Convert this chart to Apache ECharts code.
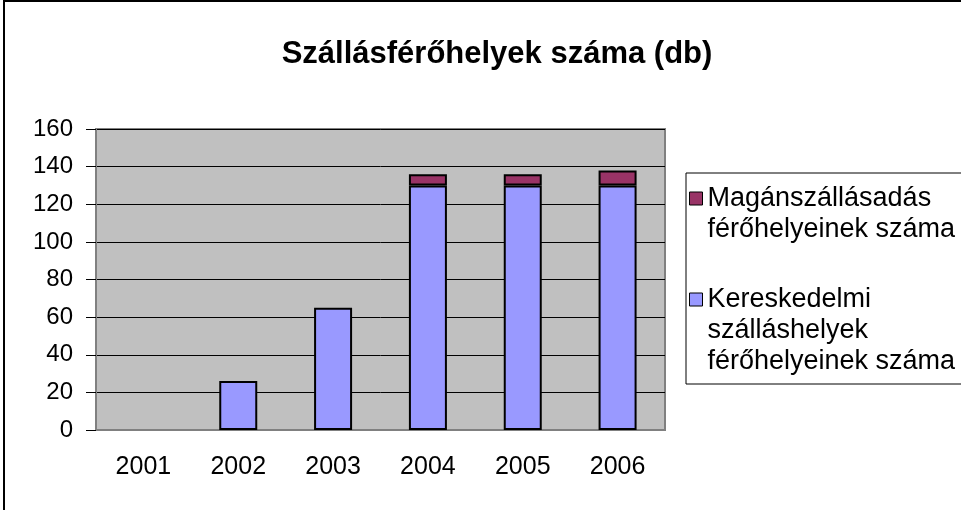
<!DOCTYPE html>
<html>
<head>
<meta charset="utf-8">
<script src="https://cdn.jsdelivr.net/npm/echarts@6/dist/echarts.min.js"></script>
<style>
  html, body { margin: 0; padding: 0; background: #fff; }
  #chart { width: 961px; height: 510px; }
</style>
</head>
<body>
<div id="chart"></div>
<script>
// data
const years = ['2001', '2002', '2003', '2004', '2005', '2006'];
const kereskedelmi = [null, 26, 65, 130, 130, 130];
const maganszallas = [null, null, null, 6, 6, 8];
const nameMagan = 'Magánszállásadás férőhelyeinek száma';
const nameKer = 'Kereskedelmi szálláshelyek férőhelyeinek száma';

const chart = echarts.init(document.getElementById('chart'));
const font = 'Liberation Sans, Arial, sans-serif';

const legendText = {
    fontFamily: font,
    fontSize: 27,
    lineHeight: 31,
    color: '#000'
};

chart.setOption({
    animation: false,
    backgroundColor: '#fff',
    title: {
        text: 'Szállásférőhelyek száma (db)',
        left: 492,
        top: 34,
        textAlign: 'center',
        textStyle: { fontFamily: font, fontSize: 31, fontWeight: 'bold', color: '#000' }
    },
    graphic: [
        // outer chart frame
        { type: 'rect', shape: { x: 4, y: 1, width: 990, height: 540 },
          style: { fill: null, stroke: '#000', lineWidth: 2 }, z: 100 },
        // legend frame
        { type: 'rect', shape: { x: 686, y: 173, width: 300, height: 211 },
          style: { fill: '#fff', stroke: '#000', lineWidth: 1 }, z: 0 }
    ],
    legend: [
        {
            data: [nameMagan],
            orient: 'vertical',
            left: 689,
            top: 152,
            padding: 0,
            itemWidth: 13,
            itemHeight: 13,
            icon: 'rect',
            itemStyle: { borderColor: '#000', borderWidth: 1 },
            textStyle: legendText,
            formatter: () => '\nMagánszállásadás\nférőhelyeinek száma',
            selectedMode: false
        },
        {
            data: [nameKer],
            orient: 'vertical',
            left: 689,
            top: 222,
            padding: 0,
            itemWidth: 13,
            itemHeight: 13,
            icon: 'rect',
            itemStyle: { borderColor: '#000', borderWidth: 1 },
            textStyle: legendText,
            formatter: () => '\n\nKereskedelmi\nszálláshelyek\nférőhelyeinek száma',
            selectedMode: false
        }
    ],
    grid: {
        left: 96,
        right: 296,
        top: 129,
        bottom: 80,
        show: true,
        backgroundColor: '#c0c0c0',
        borderColor: '#808080',
        borderWidth: 2
    },
    xAxis: {
        type: 'category',
        data: years,
        axisLine: { lineStyle: { color: '#808080', width: 2 } },
        axisTick: { length: 8, lineStyle: { color: '#808080', width: 2 } },
        axisLabel: { fontFamily: font, fontSize: 25, color: '#000', margin: 25 }
    },
    yAxis: {
        type: 'value',
        min: 0,
        max: 160,
        interval: 20,
        axisLine: { show: true, lineStyle: { color: '#808080', width: 2 } },
        axisTick: { show: true, length: 10, lineStyle: { color: '#000', width: 1 } },
        axisLabel: { fontFamily: font, fontSize: 24, color: '#000', margin: 23 },
        splitLine: { lineStyle: { color: '#000', width: 1 } }
    },
    series: [
        {
            name: nameKer,
            type: 'bar',
            stack: 'total',
            barWidth: 38,
            data: kereskedelmi,
            itemStyle: { color: '#9999ff', borderColor: '#000', borderWidth: 2 }
        },
        {
            name: nameMagan,
            type: 'bar',
            stack: 'total',
            barWidth: 38,
            data: maganszallas,
            itemStyle: { color: '#993366', borderColor: '#000', borderWidth: 2 }
        }
    ]
});
</script>
</body>
</html>
